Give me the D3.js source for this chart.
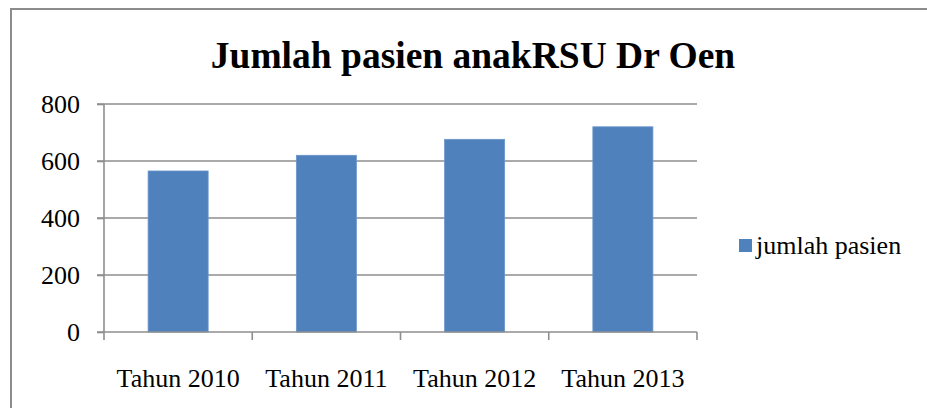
<!DOCTYPE html>
<html><head><meta charset="utf-8">
<script src="https://cdn.jsdelivr.net/npm/d3@7"></script>
<style>body{margin:0;background:#fff}svg{display:block}</style>
</head><body>
<script>
const categories = ["Tahun 2010","Tahun 2011","Tahun 2012","Tahun 2013"];
const values = [565, 620, 676, 720];
const yTicks = [0,200,400,600,800];
const seriesName = "jumlah pasien";
const title = "Jumlah pasien anakRSU Dr Oen";

const W = 927, H = 408;
const svg = d3.select("body").append("svg").attr("width", W).attr("height", H);
svg.append("rect").attr("width", W).attr("height", H).attr("fill", "#fff");

// frame (left + top)
svg.append("path").attr("d", `M11,${H} L11,9 L${W},9`).attr("fill","none")
  .attr("stroke","#8c8c8c").attr("stroke-width",2);

const x0 = 104, x1 = 697, yTop = 104, yBot = 332;
const x = d3.scaleBand().domain(categories).range([x0, x1]).paddingInner(0.595).paddingOuter(0.2975);
const y = d3.scaleLinear().domain([0, 800]).range([yBot, yTop]);
const serif = "'Liberation Serif', 'Times New Roman', serif";

// gridlines
svg.append("g").selectAll("line").data(yTicks.slice(1)).join("line")
  .attr("x1", x0 - 7).attr("x2", x1).attr("y1", d => y(d)).attr("y2", d => y(d))
  .attr("stroke", "#8e8e8e").attr("stroke-width", 1.6);

// bars
svg.append("g").selectAll("rect").data(values).join("rect")
  .attr("x", (d,i) => x(categories[i])).attr("width", x.bandwidth())
  .attr("y", d => y(d)).attr("height", d => yBot - y(d))
  .attr("fill", "#4f81bd").attr("stroke","#6b97cc").attr("stroke-width",0.8);

// y axis
const yAxis = svg.append("g").attr("transform", `translate(${x0},0)`)
  .call(d3.axisLeft(y).tickValues(yTicks).tickSize(7).tickPadding(17).tickFormat(d3.format("d")));
yAxis.attr("font-family", null).attr("font-size", null);
yAxis.select(".domain").attr("stroke","#8e8e8e").attr("stroke-width",1.6).attr("d", `M0,${yTop}V${yBot}`);
yAxis.selectAll(".tick line").attr("stroke","#8e8e8e").attr("stroke-width",1.6);
yAxis.selectAll("text").style("font-family", serif).style("font-size", "26px").attr("fill","#000").attr("dy","0.34em");

// x axis
const xb = d3.scaleLinear().domain([0,4]).range([x0,x1]);
const xAxis = svg.append("g").attr("transform", `translate(0,${yBot})`);
xAxis.append("line").attr("x1", x0-7).attr("x2", x1).attr("stroke","#8e8e8e").attr("stroke-width",1.6);
xAxis.selectAll(".tk").data([0,1,2,3,4]).join("line").attr("class","tk")
  .attr("x1", d => xb(d)).attr("x2", d => xb(d)).attr("y1",0).attr("y2",8)
  .attr("stroke","#8e8e8e").attr("stroke-width",1.6);
xAxis.selectAll("text").data(categories).join("text")
  .attr("x", d => x(d) + x.bandwidth()/2).attr("y", 55)
  .attr("text-anchor","middle").style("font-family", serif).style("font-size", "26px").attr("fill","#000")
  .text(d => d);

// title
svg.append("text").attr("x", 473).attr("y", 68).attr("text-anchor","middle")
  .style("font-family", serif).style("font-weight","bold").style("font-size", "37.5px").attr("fill","#000")
  .text(title);

// legend
svg.append("rect").attr("x", 739).attr("y", 239).attr("width", 13).attr("height", 13).attr("fill","#4f81bd");
svg.append("text").attr("x", 756).attr("y", 254).style("font-family", serif).style("font-size", "26px").attr("fill","#000").text(seriesName);
</script>
</body></html>
